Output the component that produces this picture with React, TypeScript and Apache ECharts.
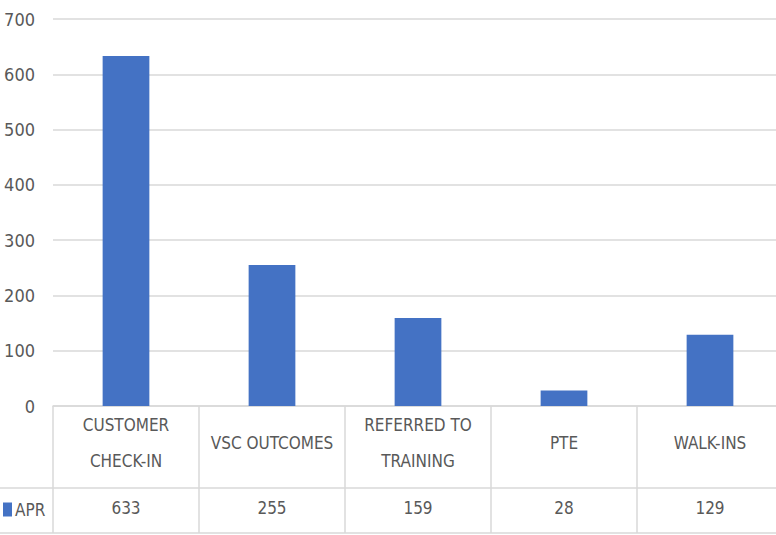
import React, { useEffect, useRef } from "react";
import * as echarts from "echarts";

const categories = ["CUSTOMER CHECK-IN", "VSC OUTCOMES", "REFERRED TO TRAINING", "PTE", "WALK-INS"];
const categoryLabels = ["CUSTOMER\nCHECK-IN", "VSC OUTCOMES", "REFERRED TO\nTRAINING", "PTE", "WALK-INS"];
const seriesName = "APR";
const aprValues = [633, 255, 159, 28, 129];
const yMin = 0;
const yMax = 700;
const yInterval = 100;

const FONT = "'Liberation Sans Narrow', 'DejaVu Sans Condensed', 'Roboto', sans-serif";
const TEXT = "#595959";
const LINE = "#d9d9d9";

export default function App() {
  const ref = useRef<HTMLDivElement>(null);
  useEffect(() => {
    if (!ref.current) return;
    const chart = echarts.init(ref.current, null, { renderer: "svg" });
    const W = 783;
    chart.setOption({
      animation: false,
      textStyle: { fontFamily: FONT },
      grid: { left: 53, right: 0, top: 19, bottom: 129, containLabel: false },
      legend: {
        data: [seriesName],
        left: 3,
        top: 501,
        padding: 0,
        icon: "rect",
        itemWidth: 9,
        itemHeight: 14,
        itemGap: 4,
        textStyle: { color: TEXT, fontSize: 17, fontFamily: FONT, padding: [0, 0, 0, -2] },
      },
      xAxis: [
        {
          type: "category",
          data: categories,
          axisLine: { show: true, lineStyle: { color: LINE, width: 1.5 } },
          axisTick: { show: true, length: 127, lineStyle: { color: LINE, width: 1.5 } },
          axisLabel: {
            interval: 0,
            margin: 37,
            verticalAlign: "middle",
            color: TEXT,
            fontSize: 17,
            lineHeight: 36,
            fontFamily: FONT,
            formatter: (_v: string, i: number) => categoryLabels[i],
          },
        },
        {
          type: "category",
          data: categories,
          position: "bottom",
          axisLine: { show: false },
          axisTick: { show: false },
          axisLabel: {
            interval: 0,
            margin: 102,
            verticalAlign: "middle",
            color: TEXT,
            fontSize: 17,
            fontFamily: FONT,
            formatter: (_v: string, i: number) => String(aprValues[i]),
          },
        },
      ],
      yAxis: {
        type: "value",
        min: yMin,
        max: yMax,
        interval: yInterval,
        axisLine: { show: false },
        axisTick: { show: false },
        axisLabel: { color: TEXT, fontSize: 18, margin: 18, fontFamily: FONT },
        splitLine: { lineStyle: { color: LINE, width: 1.5 } },
      },
      series: [
        {
          name: seriesName,
          type: "bar",
          xAxisIndex: 0,
          data: aprValues,
          barWidth: "32%",
          itemStyle: { color: "#4472C4" },
        },
      ],
      graphic: [
        { type: "line", shape: { x1: 0, y1: 488, x2: W, y2: 488 }, style: { stroke: LINE, lineWidth: 1.5 } },
        { type: "line", shape: { x1: 0, y1: 533, x2: W, y2: 533 }, style: { stroke: LINE, lineWidth: 1.5 } },
      ],
    });
    return () => chart.dispose();
  }, []);
  return (
    <div style={{ position: "fixed", left: 0, top: 0, width: 776, height: 535, overflow: "hidden", background: "#fff" }}>
      <div ref={ref} style={{ width: 783, height: 535 }} />
    </div>
  );
}
